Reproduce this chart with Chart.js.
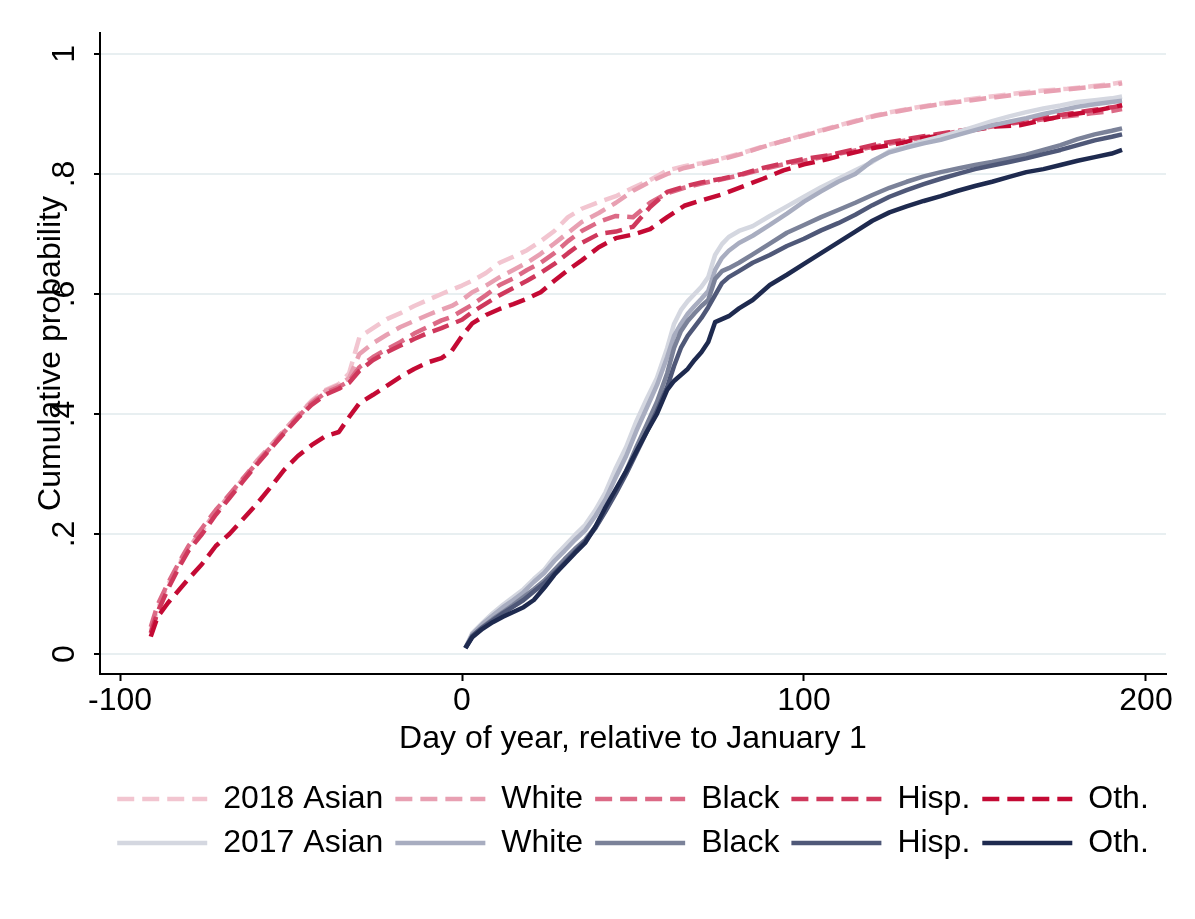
<!DOCTYPE html>
<html>
<head>
<meta charset="utf-8">
<title>Cumulative probability by day of year</title>
<script src="https://cdn.jsdelivr.net/npm/chart.js@4.4.1/dist/chart.umd.min.js"></script>
<style>
  html, body { margin: 0; padding: 0; background: #ffffff; }
  #wrap { width: 1195px; height: 919px; position: relative; }
  canvas { display: block; }
</style>
</head>
<body>
<div id="wrap"><canvas id="chart" width="1195" height="919"></canvas></div>
<script>
// Day grids (relative to January 1)
const days2018 = [
  -91, -89, -86, -83, -80, -76, -72, -68, -64, -60,
  -56, -52, -48, -44, -40, -36, -33, -30, -26, -22,
  -18, -14, -10, -6, -3, 0, 3, 7, 11, 15,
  19, 23, 27, 31, 35, 40, 45, 50, 55, 60,
  65, 70, 76, 82, 88, 94, 100, 107, 114, 121,
  128, 135, 142, 149, 156, 163, 170, 177, 184, 190,
  193
];
const days2017 = [
  1, 3, 6, 9, 12, 15, 18, 21, 24, 27,
  30, 33, 36, 39, 42, 45, 48, 51, 54, 57,
  60, 62, 64, 66, 68, 70, 72, 74, 76, 78,
  81, 85, 90, 95, 100, 105, 110, 115, 120, 125,
  130, 135, 140, 145, 150, 155, 160, 165, 170, 175,
  180, 185, 190, 193
];

// 2018 cumulative probabilities
const asian2018 = [
  0.04, 0.075, 0.115, 0.148, 0.178, 0.205, 0.235, 0.262, 0.29, 0.32,
  0.345, 0.372, 0.398, 0.422, 0.44, 0.45, 0.468, 0.528, 0.543, 0.558,
  0.568, 0.58, 0.59, 0.6, 0.607, 0.614, 0.622, 0.635, 0.652, 0.662,
  0.673, 0.688, 0.705, 0.728, 0.742, 0.753, 0.763, 0.777, 0.79, 0.806,
  0.813, 0.818, 0.826, 0.835, 0.846, 0.855, 0.865, 0.876, 0.887, 0.898,
  0.906, 0.913, 0.919, 0.925, 0.93, 0.935, 0.939, 0.942, 0.946, 0.95,
  0.953
];
const white2018 = [
  0.035, 0.07, 0.11, 0.145, 0.176, 0.206, 0.236, 0.265, 0.292, 0.322,
  0.347, 0.373, 0.398, 0.42, 0.438, 0.448, 0.46, 0.5, 0.518, 0.532,
  0.545, 0.555, 0.565, 0.574, 0.58, 0.59, 0.603, 0.614, 0.628, 0.64,
  0.652, 0.667, 0.684, 0.702, 0.72, 0.735, 0.752, 0.772, 0.787, 0.8,
  0.81, 0.816, 0.824, 0.834, 0.845, 0.855, 0.864, 0.875, 0.886, 0.897,
  0.905, 0.912, 0.918, 0.923, 0.928, 0.933, 0.937, 0.941, 0.945, 0.948,
  0.951
];
const black2018 = [
  0.045, 0.082, 0.118, 0.15, 0.18, 0.21, 0.24, 0.266, 0.293, 0.318,
  0.344, 0.37, 0.395, 0.418, 0.435, 0.445, 0.455, 0.478, 0.495, 0.508,
  0.52, 0.534, 0.545, 0.556, 0.562, 0.572, 0.582, 0.598, 0.615, 0.626,
  0.64, 0.652, 0.668, 0.688, 0.705, 0.72, 0.73, 0.728, 0.752, 0.768,
  0.777, 0.784, 0.791, 0.799, 0.808, 0.816, 0.822, 0.83, 0.838, 0.846,
  0.854, 0.861, 0.868, 0.874, 0.88, 0.886, 0.891, 0.896, 0.901, 0.905,
  0.908
];
const hisp2018 = [
  0.035, 0.07, 0.108, 0.142, 0.172, 0.2, 0.232, 0.26, 0.288, 0.316,
  0.342, 0.368, 0.393, 0.415, 0.432, 0.442, 0.452, 0.472, 0.49, 0.503,
  0.514, 0.525, 0.535, 0.543, 0.55, 0.557, 0.57, 0.584, 0.598, 0.61,
  0.622, 0.635, 0.65, 0.668, 0.685, 0.7, 0.704, 0.712, 0.745, 0.77,
  0.779, 0.786, 0.792, 0.8, 0.81, 0.818, 0.825, 0.831, 0.84, 0.849,
  0.856, 0.863, 0.869, 0.875, 0.882, 0.887, 0.894, 0.9, 0.906, 0.911,
  0.914
];
const oth2018 = [
  0.029, 0.062, 0.085, 0.105, 0.125, 0.15, 0.18, 0.2, 0.225, 0.25,
  0.278, 0.307, 0.33, 0.348, 0.363, 0.37, 0.395, 0.418, 0.432, 0.447,
  0.462, 0.475, 0.486, 0.493, 0.505, 0.53, 0.551, 0.565, 0.575, 0.583,
  0.592, 0.603, 0.622, 0.64, 0.656, 0.678, 0.693, 0.699, 0.708, 0.728,
  0.747, 0.756, 0.766, 0.779, 0.792, 0.806, 0.816, 0.825, 0.835, 0.844,
  0.851, 0.86, 0.865, 0.873, 0.879, 0.881, 0.89, 0.898, 0.904, 0.911,
  0.915
];

// 2017 cumulative probabilities
const asian2017 = [
  0.01, 0.035, 0.052, 0.068, 0.082, 0.095, 0.108, 0.125, 0.14, 0.162,
  0.18, 0.198, 0.215, 0.24, 0.27, 0.31, 0.345, 0.388, 0.425, 0.46,
  0.51, 0.55, 0.573, 0.588, 0.6, 0.612, 0.628, 0.665, 0.683, 0.695,
  0.705, 0.713, 0.73, 0.746, 0.762, 0.778, 0.792, 0.806, 0.82, 0.838,
  0.846, 0.855, 0.862, 0.87, 0.879, 0.888, 0.896, 0.903, 0.909, 0.914,
  0.92, 0.923, 0.926, 0.929
];
const white2017 = [
  0.01, 0.033, 0.05, 0.064, 0.078, 0.09, 0.103, 0.12, 0.135, 0.155,
  0.172, 0.19, 0.206, 0.23, 0.258, 0.295, 0.33, 0.372, 0.41, 0.448,
  0.495, 0.53, 0.55, 0.567, 0.58, 0.592, 0.605, 0.64, 0.66, 0.672,
  0.685, 0.697, 0.715, 0.734, 0.754, 0.771, 0.787, 0.8, 0.822, 0.836,
  0.844, 0.851, 0.857, 0.865, 0.873, 0.881, 0.887, 0.893, 0.9, 0.906,
  0.912, 0.916, 0.92, 0.922
];
const black2017 = [
  0.01, 0.03, 0.045, 0.058, 0.07, 0.082, 0.095, 0.108, 0.122, 0.14,
  0.158, 0.175, 0.19, 0.212, 0.24, 0.272, 0.305, 0.345, 0.382, 0.42,
  0.468, 0.51, 0.538, 0.555, 0.568, 0.58, 0.59, 0.625, 0.638, 0.643,
  0.652, 0.666, 0.684, 0.702, 0.715, 0.728, 0.74, 0.752, 0.765, 0.777,
  0.787, 0.796, 0.803, 0.809, 0.815, 0.82, 0.826, 0.832, 0.84, 0.848,
  0.858, 0.866, 0.872, 0.876
];
const hisp2017 = [
  0.01, 0.03, 0.044, 0.056, 0.068, 0.079, 0.09, 0.104, 0.118, 0.135,
  0.152, 0.17, 0.188, 0.21, 0.238, 0.268, 0.3, 0.335, 0.37, 0.405,
  0.445, 0.48, 0.51, 0.53, 0.545, 0.56, 0.578, 0.598, 0.618, 0.628,
  0.638, 0.652, 0.665, 0.68, 0.692, 0.706, 0.718, 0.732, 0.748, 0.762,
  0.773, 0.783, 0.792, 0.8, 0.808, 0.814, 0.82, 0.826, 0.833, 0.84,
  0.848, 0.856, 0.862, 0.866
];
const oth2017 = [
  0.01, 0.028, 0.042, 0.053, 0.062, 0.07, 0.078, 0.09, 0.11, 0.132,
  0.15, 0.168, 0.185, 0.212, 0.245, 0.275, 0.305, 0.338, 0.37, 0.4,
  0.44, 0.455, 0.465, 0.475, 0.49, 0.503, 0.52, 0.553, 0.558, 0.563,
  0.576, 0.59, 0.615, 0.632, 0.65, 0.668, 0.686, 0.704, 0.722, 0.736,
  0.746, 0.755, 0.763, 0.772, 0.78, 0.787, 0.795, 0.803, 0.808, 0.815,
  0.822, 0.828, 0.834, 0.84
];

// Axis ticks and their labels
const xTicks = [-100, 0, 100, 200];
const xTickLabels = ['-100', '0', '100', '200'];
const yTicks = [0, 0.2, 0.4, 0.6, 0.8, 1];
const yTickLabels = ['0', '.2', '.4', '.6', '.8', '1'];

// Legend labels
const labels2018 = ['2018 Asian', 'White', 'Black', 'Hisp.', 'Oth.'];
const labels2017 = ['2017 Asian', 'White', 'Black', 'Hisp.', 'Oth.'];

// Styling
const FONT = "'Liberation Sans', Arial, Helvetica, sans-serif";
const reds = ['#f2c5d0', '#e8a0b2', '#dc6a86', '#cf385c', '#c40a34'];
const blues = ['#d4d7e0', '#a8adc0', '#7b8299', '#4f5878', '#1e2a4f'];
const LINE_WIDTH = 4.5;
const DASH = [17, 8];

const values2018 = [asian2018, white2018, black2018, hisp2018, oth2018];
const values2017 = [asian2017, white2017, black2017, hisp2017, oth2017];

function makeSeries(label, days, values, color, dashed) {
  return {
    label: label,
    data: days.map((d, i) => ({ x: d, y: values[i] })),
    borderColor: color,
    backgroundColor: color,
    borderWidth: LINE_WIDTH,
    borderDash: dashed ? DASH : [],
    borderCapStyle: 'butt',
    borderJoinStyle: 'round',
    pointRadius: 0,
    pointHoverRadius: 0,
    pointStyle: 'line',
    fill: false,
    tension: 0
  };
}

const datasets = [];
labels2018.forEach((lab, i) => datasets.push(makeSeries(lab, days2018, values2018[i], reds[i], true)));
labels2017.forEach((lab, i) => datasets.push(makeSeries(lab, days2017, values2017[i], blues[i], false)));
// later series are painted on top
datasets.forEach((ds, i) => { ds.order = datasets.length - i; });

const whiteBackground = {
  id: 'whiteBackground',
  beforeDraw(chart) {
    const ctx = chart.ctx;
    ctx.save();
    ctx.fillStyle = '#ffffff';
    ctx.fillRect(0, 0, chart.width, chart.height);
    ctx.restore();
  }
};

// legend keys drawn as line samples carrying each series' own stroke and dash
function lineKeys(chart) {
  const items = Chart.defaults.plugins.legend.labels.generateLabels(chart);
  items.forEach((item) => {
    const ds = chart.data.datasets[item.datasetIndex];
    item.pointStyle = 'line';
    item.strokeStyle = ds.borderColor;
    item.fillStyle = ds.borderColor;
    item.lineWidth = ds.borderWidth;
    item.lineDash = ds.borderDash;
    item.lineDashOffset = 0;
    item.lineCap = 'butt';
  });
  return items;
}

const tickFont = { family: FONT, size: 32 };

new Chart(document.getElementById('chart'), {
  type: 'line',
  data: { datasets: datasets },
  plugins: [whiteBackground],
  options: {
    responsive: false,
    animation: false,
    devicePixelRatio: 1,
    events: [],
    layout: { padding: { top: 33, right: 29, bottom: 50, left: 0 } },
    plugins: {
      legend: {
        position: 'bottom',
        fullSize: false,
        align: 'center',
        labels: {
          usePointStyle: true,
          pointStyleWidth: 90,
          padding: 12,
          color: '#000000',
          font: { family: FONT, size: 32 },
          generateLabels: lineKeys,
          sort: (a, b) => a.datasetIndex - b.datasetIndex
        }
      },
      tooltip: { enabled: false },
      title: { display: false }
    },
    scales: {
      x: {
        type: 'linear',
        min: -105.85,
        max: 205.85,
        afterBuildTicks: (scale) => { scale.ticks = xTicks.map(v => ({ value: v })); },
        afterFit: (scale) => { scale.height = 97; scale.paddingLeft = 0; scale.paddingRight = 0; },
        grid: { drawOnChartArea: false, drawTicks: true, tickLength: 7, tickWidth: 2, tickColor: '#000000' },
        border: { display: true, color: '#000000', width: 2 },
        ticks: {
          autoSkip: false,
          maxRotation: 0,
          minRotation: 0,
          padding: 1,
          color: '#000000',
          font: tickFont,
          callback: (value, index) => xTickLabels[index]
        },
        title: {
          display: true,
          text: 'Day of year, relative to January 1',
          color: '#000000',
          font: { family: FONT, size: 32 },
          padding: { top: 0, bottom: 13 }
        }
      },
      y: {
        type: 'linear',
        min: -0.0333,
        max: 1.0349,
        afterBuildTicks: (scale) => { scale.ticks = yTicks.map(v => ({ value: v })); },
        afterFit: (scale) => { scale.width = 100; scale.paddingTop = 0; scale.paddingBottom = 0; },
        grid: { color: '#e8eff1', lineWidth: 2, drawTicks: true, tickLength: 6, tickWidth: 2, tickColor: '#000000' },
        border: { display: true, color: '#000000', width: 2 },
        ticks: {
          autoSkip: false,
          minRotation: 90,
          maxRotation: 90,
          crossAlign: 'center',
          padding: 15,
          color: '#000000',
          font: tickFont,
          callback: (value, index) => yTickLabels[index]
        },
        title: {
          display: true,
          text: 'Cumulative probability',
          color: '#000000',
          font: { family: FONT, size: 32 },
          padding: { top: 32, bottom: 0 }
        }
      }
    }
  }
});
</script>
</body>
</html>
